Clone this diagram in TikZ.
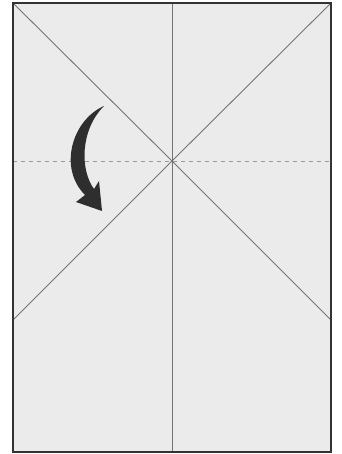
\documentclass[tikz,border=0pt]{standalone}
\begin{document}
\begin{tikzpicture}[x=1pt,y=-1pt,
  fold/.style={draw=black!55,line width=0.9pt},
  edge/.style={draw=black!80,line width=1.3pt},
  valley/.style={draw=black!40,line width=0.8pt,dash pattern=on 4pt off 4pt}]
\useasboundingbox (0,0) rectangle (341,454);
\coordinate (tl) at (13,3);
\coordinate (tr) at (331,3);
\coordinate (bl) at (13,452);
\coordinate (br) at (331,452);
\coordinate (c) at (172,161);
\coordinate (tm) at (172,3);
\coordinate (bm) at (172,452);
\coordinate (ml) at (13,161);
\coordinate (mr) at (331,161);
\coordinate (dl) at (13,320);
\coordinate (dr) at (331,320);
\fill[black!8] (tl) rectangle (br);
\draw[valley] (ml) -- (mr);
\draw[fold] (tm) -- (bm);
\draw[fold] (tl) -- (c) -- (dr);
\draw[fold] (tr) -- (c) -- (dl);
\draw[edge] (tl) rectangle (br);
\fill[black!82] (104,106) .. controls (72,120) and (58,168) .. (85,195)
  -- (76,202) -- (102,211) -- (99,181) -- (94,189)
  .. controls (80,170) and (80,130) .. (104,106) -- cycle;
\end{tikzpicture}
\end{document}
